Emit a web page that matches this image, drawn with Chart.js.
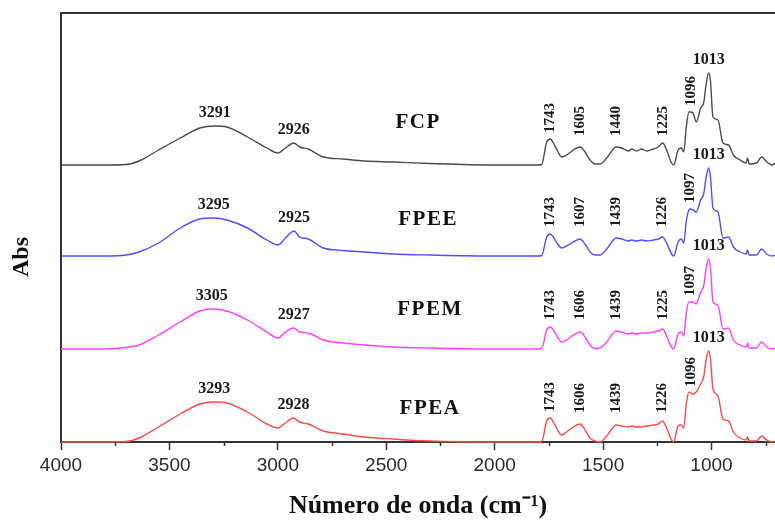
<!DOCTYPE html>
<html>
<head>
<meta charset="utf-8">
<title>Espectros FTIR</title>
<script src="https://cdn.jsdelivr.net/npm/chart.js@4/dist/chart.umd.min.js"></script>
<style>
  html, body { margin: 0; padding: 0; background: #fff; }
  #wrap { width: 775px; height: 522px; position: relative; }
</style>
</head>
<body>
<div id="wrap"><canvas id="c" width="775" height="522"></canvas></div>
<script>
// Sample names, top to bottom
const sampleNames = ['FCP', 'FPEE', 'FPEM', 'FPEA'];
const lineColors = ['#4a4a4a', '#4f4fff', '#ff40ff', '#ff4a4a'];

// Vertical stacking offset of each spectrum (absorbance units of the plot)
const stackOffset = [277, 186, 93, 0];

// Wavenumbers (cm-1) and absorbance of each spectrum
const fcpWn = [4000, 3800, 3700, 3640, 3550, 3450, 3360, 3291, 3235, 3140, 3050, 3000, 2965, 2926, 2900, 2860, 2790, 2700, 2600, 2470, 2300, 2000, 1800,
  1783, 1760, 1743, 1729, 1710, 1691, 1668, 1637, 1605, 1583, 1560, 1537, 1514, 1483, 1440, 1414, 1383, 1368, 1345, 1322, 1299, 1268, 1245, 1225,
  1207, 1184, 1174, 1154, 1139, 1128, 1116, 1104, 1096, 1085, 1070, 1050, 1036, 1025, 1013, 1005, 993, 970, 947, 921, 899, 868, 840, 834, 826, 792, 769, 745, 722, 705];
const fcpAbs = [0, 0, 0.5, 4, 15, 27, 37, 39, 38, 28, 17, 12, 17, 22, 18, 16, 8, 6, 4, 3, 1.5, 0, 0,
  0.5, 23, 26, 22, 14, 8, 10, 15, 18, 13, 5, 1, 1, 7, 18, 17, 14, 16, 14, 16, 14, 16, 18, 22,
  15, 2, 0, 15, 17, 13, 38, 53, 53, 52, 43, 57, 62, 80, 92, 85, 48, 45, 22, 20, 10, 5, 2, 7, 1, 2, 8, 3, 0, 2];

const fpeeWn = [4000, 3800, 3700, 3640, 3550, 3450, 3360, 3295, 3235, 3140, 3050, 3000, 2965, 2925, 2900, 2860, 2790, 2700, 2600, 2470, 2300, 2000, 1800,
  1783, 1760, 1743, 1729, 1710, 1691, 1668, 1637, 1607, 1583, 1560, 1537, 1514, 1483, 1439, 1414, 1383, 1368, 1345, 1322, 1299, 1268, 1245, 1226,
  1207, 1184, 1174, 1154, 1139, 1128, 1116, 1104, 1097, 1085, 1070, 1050, 1036, 1025, 1013, 1005, 993, 970, 947, 921, 899, 868, 840, 834, 826, 792, 769, 745, 722, 705];
const fpeeAbs = [0, 0, 1, 4, 13, 28, 37, 38, 36, 28, 16, 11, 18, 25, 19, 17, 8, 5.5, 4, 2, 1, 0, 0,
  0.5, 19, 22, 19, 12, 8, 10, 14, 17, 12, 4, 1, 1, 7, 18, 17, 15, 16, 15, 16, 15, 16, 17, 19,
  13, 2, 0, 14, 17, 13, 35, 46, 47, 46, 44, 56, 62, 78, 88, 80, 48, 44, 18, 19, 9, 4, 2, 6, 1, 1, 7, 2, 0, 1];

const fpemWn = [4000, 3800, 3700, 3640, 3550, 3450, 3360, 3305, 3235, 3140, 3050, 3000, 2965, 2927, 2900, 2860, 2790, 2700, 2600, 2470, 2300, 2000, 1800,
  1783, 1760, 1743, 1729, 1710, 1691, 1668, 1637, 1606, 1583, 1560, 1537, 1514, 1483, 1439, 1414, 1383, 1368, 1345, 1322, 1299, 1268, 1245, 1225,
  1207, 1184, 1174, 1154, 1139, 1128, 1116, 1104, 1097, 1085, 1070, 1050, 1036, 1025, 1013, 1005, 993, 970, 947, 921, 899, 868, 840, 834, 826, 792, 769, 745, 722, 705];
const fpemAbs = [0, 0, 1.5, 4, 14, 27, 38, 40, 38, 29, 17, 11, 17, 21, 17, 16, 9, 6, 4, 2, 1, 0, 0,
  0.5, 19, 22, 19, 12, 7, 9, 14, 17, 12, 4, 0.5, 1, 7, 18, 17, 15, 16, 15, 16, 16, 17, 18, 20,
  13, 2, 0, 15, 17, 13, 36, 47, 47, 47, 45, 57, 63, 80, 90, 82, 47, 44, 20, 21, 9, 4, 2, 6, 1, 1, 7, 2, 0, 1];

const fpeaWn = [4000, 3800, 3700, 3640, 3550, 3450, 3360, 3293, 3235, 3140, 3050, 3000, 2965, 2928, 2900, 2860, 2790, 2700, 2600, 2470, 2300, 2000, 1800,
  1783, 1760, 1743, 1729, 1710, 1691, 1668, 1637, 1606, 1583, 1560, 1537, 1514, 1483, 1439, 1414, 1383, 1368, 1345, 1322, 1299, 1268, 1245, 1226,
  1207, 1184, 1174, 1154, 1139, 1128, 1116, 1104, 1096, 1085, 1070, 1050, 1036, 1025, 1013, 1005, 993, 970, 947, 921, 899, 868, 840, 834, 826, 792, 769, 745, 722, 705];
const fpeaAbs = [0, 0, 0.5, 4, 15, 28, 38, 40, 39, 30, 18, 14, 19, 24, 20, 18, 11, 8, 5, 3, 1, 0, 0,
  0.5, 21, 24, 20, 12, 7, 10, 15, 18, 12, 4, 1, 0, 6, 17, 16, 15, 16, 15, 15, 16, 17, 18, 21,
  14, 2, 0, 16, 17, 14, 38, 50, 49, 48, 50, 58, 65, 82, 91, 84, 53, 46, 23, 21, 10, 4, 2, 5, 1, 1, 6, 2, 0, 1];

// Labelled band positions (cm-1)
const fcpPeaks = [3291, 2926, 1743, 1605, 1440, 1225, 1096, 1013];
const fpeePeaks = [3295, 2925, 1743, 1607, 1439, 1226, 1097, 1013];
const fpemPeaks = [3305, 2927, 1743, 1606, 1439, 1225, 1097, 1013];
const fpeaPeaks = [3293, 2928, 1743, 1606, 1439, 1226, 1096, 1013];

// Axis ticks
const xMajorTicks = [4000, 3500, 3000, 2500, 2000, 1500, 1000];
const xMinorTicks = [3750, 3250, 2750, 2250, 1750, 1250, 750];

const spectra = [
  { wn: fcpWn, abs: fcpAbs, peaks: fcpPeaks },
  { wn: fpeeWn, abs: fpeeAbs, peaks: fpeePeaks },
  { wn: fpemWn, abs: fpemAbs, peaks: fpemPeaks },
  { wn: fpeaWn, abs: fpeaAbs, peaks: fpeaPeaks }
];

const AXIS_COLOR = '#333';
const SERIF = '"Liberation Serif", "Times New Roman", serif';
const SANS = '"Liberation Sans", Arial, sans-serif';

const datasets = spectra.map((s, i) => ({
  label: sampleNames[i],
  data: s.wn.map((w, k) => ({ x: w, y: s.abs[k] + stackOffset[i] })),
  borderColor: lineColors[i],
  borderWidth: 1.4,
  pointRadius: 0,
  fill: false,
  cubicInterpolationMode: 'monotone',
  clip: { left: 0, top: 0, right: 0, bottom: 3 }
}));

// Minor ticks, top frame line, "Abs" title, band labels and sample names
const decorations = {
  id: 'decorations',
  afterDraw(chart) {
    const { ctx, chartArea: ca, scales: { x, y } } = chart;
    ctx.save();
    ctx.strokeStyle = AXIS_COLOR;
    ctx.lineWidth = 1.5;
    xMinorTicks.forEach(v => {
      const px = Math.round(x.getPixelForValue(v)) + 0.5;
      if (px < ca.left || px > ca.right) return;
      ctx.beginPath();
      ctx.moveTo(px, ca.bottom);
      ctx.lineTo(px, ca.bottom + 4);
      ctx.stroke();
    });
    ctx.lineWidth = 2;
    ctx.beginPath();
    ctx.moveTo(ca.left - 1, ca.top);
    ctx.lineTo(chart.width, ca.top);
    ctx.stroke();

    ctx.fillStyle = '#111';
    ctx.font = 'bold 24px ' + SERIF;
    ctx.textAlign = 'center';
    ctx.textBaseline = 'middle';
    ctx.save();
    ctx.translate(22, 257);
    ctx.rotate(-Math.PI / 2);
    ctx.fillText('Abs', 0, 0);
    ctx.restore();

    const nameWn = [2353, 2307, 2298, 2298];
    const nameLift = [42, 36, 39, 33];
    spectra.forEach((s, i) => {
      const off = stackOffset[i];
      ctx.fillStyle = '#1a1a1a';
      s.peaks.forEach(p => {
        const k = s.wn.indexOf(p);
        const h = s.abs[k];
        const px = x.getPixelForValue(p);
        const rotated = p < 1800 && p > 1013;
        if (rotated) {
          const yPeak = y.getPixelForValue(off + h) - 6;
          const yLevel = y.getPixelForValue(off + 29);
          ctx.save();
          ctx.font = 'bold 15px ' + SERIF;
          ctx.translate(px, Math.min(yPeak, yLevel));
          ctx.rotate(-Math.PI / 2);
          ctx.textAlign = 'left';
          ctx.textBaseline = 'middle';
          ctx.fillText(String(p), 0, 0);
          ctx.restore();
        } else {
          ctx.font = 'bold 16px ' + SERIF;
          ctx.textAlign = 'center';
          ctx.textBaseline = 'middle';
          ctx.fillText(String(p), px, y.getPixelForValue(off + h) - 13);
        }
      });
      ctx.font = 'bold 21px ' + SERIF;
      ctx.letterSpacing = '1.5px';
      ctx.textAlign = 'center';
      ctx.textBaseline = 'middle';
      ctx.fillStyle = '#111';
      ctx.fillText(sampleNames[i], x.getPixelForValue(nameWn[i]), y.getPixelForValue(off + nameLift[i]));
      ctx.letterSpacing = '0px';
    });
    ctx.restore();
  }
};

new Chart(document.getElementById('c'), {
  type: 'line',
  data: { datasets },
  options: {
    responsive: false,
    animation: false,
    devicePixelRatio: 1,
    layout: { padding: { top: 13, right: 0, left: 0, bottom: 0 } },
    plugins: { legend: { display: false }, tooltip: { enabled: false } },
    scales: {
      x: {
        type: 'linear',
        reverse: true,
        min: 707,
        max: 4000,
        afterBuildTicks: s => { s.ticks = xMajorTicks.map(v => ({ value: v })); },
        afterFit: s => { s.height = 80; },
        ticks: {
          autoSkip: false,
          maxRotation: 0,
          padding: 4,
          color: '#2a2a2a',
          font: { family: SANS, size: 19 },
          callback: v => String(v)
        },
        grid: { drawOnChartArea: false, drawTicks: true, tickLength: 8, tickColor: AXIS_COLOR, tickWidth: 1.5 },
        border: { display: true, color: AXIS_COLOR, width: 2 },
        title: {
          display: true,
          text: 'Número de onda (cm⁻¹)',
          color: '#111',
          font: { family: SERIF, size: 26, weight: 'bold' },
          padding: { top: 0, bottom: 0 }
        }
      },
      y: {
        min: 0,
        max: 429,
        afterFit: s => { s.width = 61; },
        ticks: { display: false },
        grid: { display: false },
        border: { display: true, color: AXIS_COLOR, width: 2 }
      }
    }
  },
  plugins: [decorations]
});
</script>
</body>
</html>
